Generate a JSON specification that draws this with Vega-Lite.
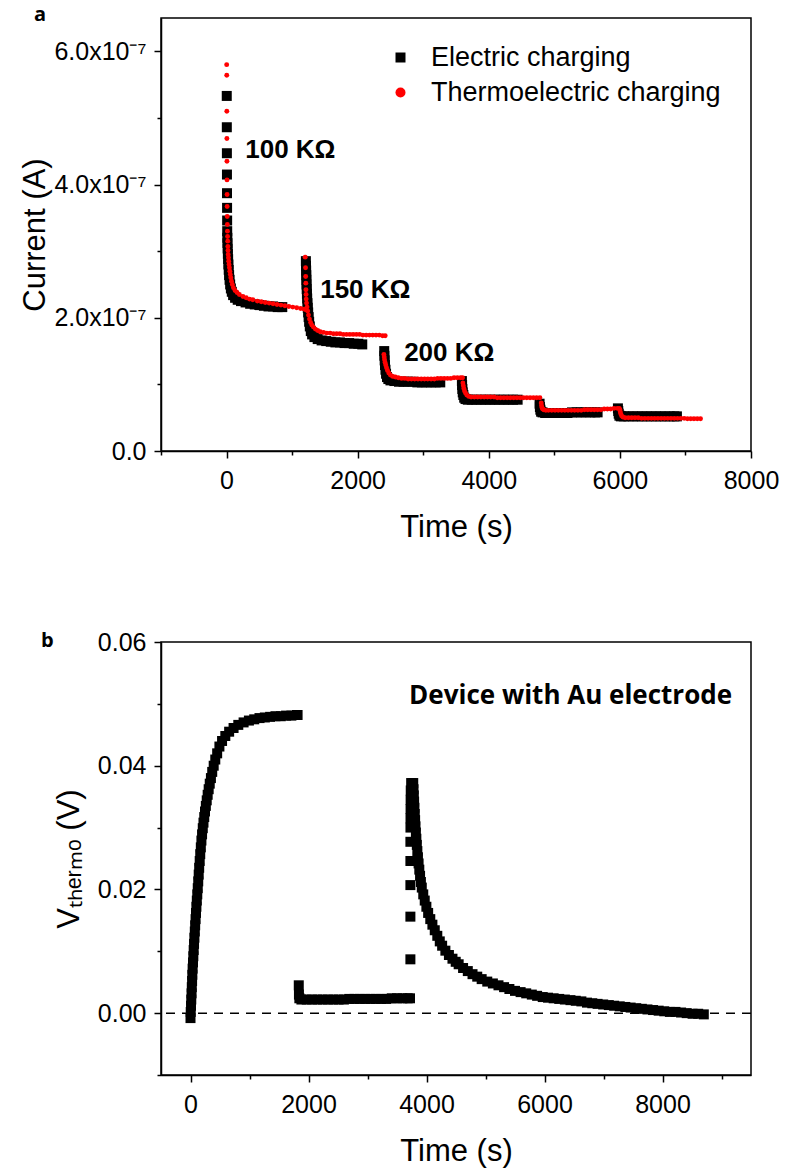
{
  "$schema": "https://vega.github.io/schema/vega-lite/v6.json",
  "padding": {"left": 19, "top": 3, "right": 5, "bottom": 5},
  "autosize": {"type": "pad"},
  "background": "white",
  "config": {
    "font": "Liberation Sans",
    "view": {"stroke": "black", "strokeWidth": 1.5},
    "axis": {"domainColor": "black", "domainWidth": 1.5, "tickColor": "black", "tickWidth": 1.5, "labelColor": "black", "titleColor": "black", "labelFont": "Liberation Sans", "titleFont": "Liberation Sans", "labelFontSize": 25, "titleFontSize": 31, "titleFontWeight": "normal", "grid": false, "labelOverlap": false, "labelFlush": false}
  },
  "datasets": {
    "electric": [
      {"t":3,"current":5.33e-7},{"t":4,"current":4.86e-7},{"t":5,"current":4.47e-7},{"t":6,"current":4.15e-7},{"t":7,"current":3.87e-7},{"t":8,"current":3.65e-7},{"t":9,"current":3.46e-7},{"t":10,"current":3.30e-7},{"t":12,"current":3.20e-7},{"t":14,"current":3.12e-7},{"t":17,"current":3.04e-7},{"t":20,"current":2.96e-7},{"t":24,"current":2.88e-7},{"t":28,"current":2.80e-7},{"t":33,"current":2.72e-7},{"t":39,"current":2.64e-7},{"t":46,"current":2.57e-7},{"t":55,"current":2.50e-7},{"t":66,"current":2.44e-7},{"t":80,"current":2.39e-7},{"t":100,"current":2.34e-7},{"t":130,"current":2.30e-7},{"t":170,"current":2.27e-7},{"t":220,"current":2.25e-7},{"t":290,"current":2.23e-7},{"t":360,"current":2.21e-7},{"t":430,"current":2.20e-7},{"t":500,"current":2.19e-7},{"t":570,"current":2.18e-7},{"t":640,"current":2.17e-7},{"t":710,"current":2.17e-7},{"t":780,"current":2.16e-7},{"t":850,"current":2.16e-7},
      {"t":1210,"current":2.85e-7},{"t":1212,"current":2.78e-7},{"t":1214,"current":2.71e-7},{"t":1216,"current":2.64e-7},{"t":1218,"current":2.57e-7},{"t":1220,"current":2.50e-7},{"t":1223,"current":2.43e-7},{"t":1226,"current":2.36e-7},{"t":1230,"current":2.29e-7},{"t":1234,"current":2.22e-7},{"t":1239,"current":2.15e-7},{"t":1245,"current":2.08e-7},{"t":1252,"current":2.01e-7},{"t":1260,"current":1.94e-7},{"t":1270,"current":1.87e-7},{"t":1285,"current":1.80e-7},{"t":1305,"current":1.75e-7},{"t":1340,"current":1.71e-7},{"t":1390,"current":1.68e-7},{"t":1450,"current":1.66e-7},{"t":1520,"current":1.65e-7},{"t":1590,"current":1.64e-7},{"t":1660,"current":1.63e-7},{"t":1730,"current":1.63e-7},{"t":1800,"current":1.62e-7},{"t":1870,"current":1.62e-7},{"t":1940,"current":1.61e-7},{"t":2010,"current":1.61e-7},{"t":2070,"current":1.60e-7},
      {"t":2405,"current":1.50e-7},{"t":2408,"current":1.43e-7},{"t":2412,"current":1.36e-7},{"t":2417,"current":1.29e-7},{"t":2424,"current":1.22e-7},{"t":2433,"current":1.16e-7},{"t":2447,"current":1.11e-7},{"t":2468,"current":1.08e-7},{"t":2500,"current":1.06e-7},{"t":2560,"current":1.05e-7},{"t":2630,"current":1.04e-7},{"t":2700,"current":1.04e-7},{"t":2770,"current":1.04e-7},{"t":2840,"current":1.04e-7},{"t":2910,"current":1.03e-7},{"t":2980,"current":1.03e-7},{"t":3050,"current":1.03e-7},{"t":3120,"current":1.03e-7},{"t":3190,"current":1.03e-7},{"t":3260,"current":1.03e-7},
      {"t":3590,"current":1.05e-7},{"t":3593,"current":0.99e-7},{"t":3597,"current":0.93e-7},{"t":3603,"current":0.88e-7},{"t":3612,"current":0.84e-7},{"t":3625,"current":0.80e-7},{"t":3645,"current":0.78e-7},{"t":3680,"current":0.77e-7},{"t":3740,"current":0.77e-7},{"t":3810,"current":0.77e-7},{"t":3880,"current":0.77e-7},{"t":3950,"current":0.77e-7},{"t":4020,"current":0.77e-7},{"t":4090,"current":0.77e-7},{"t":4160,"current":0.77e-7},{"t":4230,"current":0.77e-7},{"t":4300,"current":0.77e-7},{"t":4370,"current":0.77e-7},{"t":4440,"current":0.77e-7},
      {"t":4775,"current":0.71e-7},{"t":4780,"current":0.66e-7},{"t":4787,"current":0.62e-7},{"t":4798,"current":0.59e-7},{"t":4820,"current":0.58e-7},{"t":4860,"current":0.57e-7},{"t":4920,"current":0.57e-7},{"t":4990,"current":0.57e-7},{"t":5060,"current":0.57e-7},{"t":5130,"current":0.57e-7},{"t":5200,"current":0.57e-7},{"t":5270,"current":0.58e-7},{"t":5340,"current":0.58e-7},{"t":5410,"current":0.58e-7},{"t":5480,"current":0.58e-7},{"t":5550,"current":0.58e-7},{"t":5620,"current":0.58e-7},{"t":5660,"current":0.58e-7},
      {"t":5970,"current":0.64e-7},{"t":5975,"current":0.60e-7},{"t":5982,"current":0.56e-7},{"t":5993,"current":0.53e-7},{"t":6015,"current":0.52e-7},{"t":6060,"current":0.52e-7},{"t":6130,"current":0.52e-7},{"t":6200,"current":0.52e-7},{"t":6270,"current":0.52e-7},{"t":6340,"current":0.52e-7},{"t":6410,"current":0.52e-7},{"t":6480,"current":0.52e-7},{"t":6550,"current":0.52e-7},{"t":6620,"current":0.52e-7},{"t":6690,"current":0.52e-7},{"t":6760,"current":0.52e-7},{"t":6830,"current":0.52e-7},{"t":6870,"current":0.52e-7}
    ],
    "thermo": [
      {"t":2,"current":5.80e-7},{"t":3,"current":5.64e-7},{"t":4,"current":5.10e-7},{"t":5,"current":4.69e-7},{"t":6,"current":4.35e-7},{"t":7,"current":4.07e-7},{"t":8,"current":3.85e-7},{"t":9,"current":3.67e-7},{"t":10,"current":3.52e-7},{"t":12,"current":3.40e-7},{"t":14,"current":3.30e-7},{"t":16,"current":3.22e-7},{"t":18,"current":3.15e-7},{"t":20,"current":3.07e-7},{"t":22,"current":3.01e-7},{"t":25,"current":2.95e-7},{"t":29,"current":2.90e-7},{"t":33,"current":2.85e-7},{"t":38,"current":2.80e-7},{"t":44,"current":2.75e-7},{"t":50,"current":2.70e-7},{"t":57,"current":2.65e-7},{"t":65,"current":2.60e-7},{"t":75,"current":2.55e-7},{"t":88,"current":2.50e-7},{"t":105,"current":2.45e-7},{"t":130,"current":2.41e-7},{"t":160,"current":2.38e-7},{"t":195,"current":2.35e-7},{"t":250,"current":2.32e-7},{"t":300,"current":2.30e-7},{"t":350,"current":2.28e-7},{"t":400,"current":2.27e-7},{"t":470,"current":2.25e-7},{"t":530,"current":2.24e-7},{"t":590,"current":2.23e-7},{"t":650,"current":2.22e-7},{"t":710,"current":2.21e-7},{"t":770,"current":2.20e-7},{"t":830,"current":2.19e-7},{"t":890,"current":2.18e-7},{"t":950,"current":2.17e-7},{"t":1010,"current":2.16e-7},{"t":1070,"current":2.15e-7},{"t":1130,"current":2.14e-7},{"t":1180,"current":2.13e-7},{"t":1210,"current":2.12e-7},
      {"t":1200,"current":2.91e-7},{"t":1205,"current":2.75e-7},{"t":1207,"current":2.62e-7},{"t":1209,"current":2.52e-7},{"t":1211,"current":2.42e-7},{"t":1213,"current":2.35e-7},{"t":1215,"current":2.28e-7},{"t":1220,"current":2.22e-7},{"t":1228,"current":2.16e-7},{"t":1238,"current":2.10e-7},{"t":1250,"current":2.04e-7},{"t":1265,"current":1.98e-7},{"t":1282,"current":1.93e-7},{"t":1300,"current":1.89e-7},{"t":1325,"current":1.86e-7},{"t":1355,"current":1.83e-7},{"t":1390,"current":1.81e-7},{"t":1430,"current":1.79e-7},{"t":1480,"current":1.78e-7},{"t":1530,"current":1.77e-7},{"t":1580,"current":1.77e-7},{"t":1630,"current":1.76e-7},{"t":1680,"current":1.76e-7},{"t":1730,"current":1.76e-7},{"t":1780,"current":1.75e-7},{"t":1830,"current":1.75e-7},{"t":1880,"current":1.75e-7},{"t":1930,"current":1.75e-7},{"t":1980,"current":1.75e-7},{"t":2030,"current":1.75e-7},{"t":2080,"current":1.74e-7},{"t":2130,"current":1.74e-7},{"t":2180,"current":1.74e-7},{"t":2230,"current":1.74e-7},{"t":2280,"current":1.74e-7},{"t":2330,"current":1.74e-7},{"t":2380,"current":1.73e-7},{"t":2420,"current":1.73e-7},
      {"t":2400,"current":1.45e-7},{"t":2405,"current":1.41e-7},{"t":2410,"current":1.37e-7},{"t":2418,"current":1.33e-7},{"t":2428,"current":1.29e-7},{"t":2440,"current":1.25e-7},{"t":2455,"current":1.21e-7},{"t":2475,"current":1.17e-7},{"t":2500,"current":1.14e-7},{"t":2535,"current":1.12e-7},{"t":2575,"current":1.11e-7},{"t":2620,"current":1.10e-7},{"t":2670,"current":1.09e-7},{"t":2720,"current":1.09e-7},{"t":2770,"current":1.08e-7},{"t":2820,"current":1.08e-7},{"t":2870,"current":1.08e-7},{"t":2920,"current":1.08e-7},{"t":2970,"current":1.08e-7},{"t":3020,"current":1.08e-7},{"t":3070,"current":1.08e-7},{"t":3120,"current":1.08e-7},{"t":3170,"current":1.08e-7},{"t":3220,"current":1.09e-7},{"t":3270,"current":1.09e-7},{"t":3320,"current":1.09e-7},{"t":3370,"current":1.09e-7},{"t":3420,"current":1.09e-7},{"t":3470,"current":1.10e-7},{"t":3520,"current":1.10e-7},{"t":3570,"current":1.10e-7},{"t":3600,"current":1.10e-7},
      {"t":3605,"current":1.02e-7},{"t":3612,"current":0.98e-7},{"t":3620,"current":0.94e-7},{"t":3630,"current":0.90e-7},{"t":3645,"current":0.87e-7},{"t":3665,"current":0.84e-7},{"t":3695,"current":0.82e-7},{"t":3730,"current":0.81e-7},{"t":3780,"current":0.81e-7},{"t":3830,"current":0.81e-7},{"t":3880,"current":0.81e-7},{"t":3930,"current":0.81e-7},{"t":3980,"current":0.81e-7},{"t":4030,"current":0.81e-7},{"t":4080,"current":0.81e-7},{"t":4130,"current":0.80e-7},{"t":4180,"current":0.80e-7},{"t":4230,"current":0.80e-7},{"t":4280,"current":0.80e-7},{"t":4330,"current":0.80e-7},{"t":4380,"current":0.80e-7},{"t":4430,"current":0.80e-7},{"t":4480,"current":0.80e-7},{"t":4530,"current":0.80e-7},{"t":4580,"current":0.80e-7},{"t":4630,"current":0.80e-7},{"t":4680,"current":0.80e-7},{"t":4730,"current":0.80e-7},{"t":4780,"current":0.80e-7},
      {"t":4800,"current":0.72e-7},{"t":4805,"current":0.68e-7},{"t":4812,"current":0.65e-7},{"t":4822,"current":0.63e-7},{"t":4840,"current":0.62e-7},{"t":4870,"current":0.61e-7},{"t":4910,"current":0.61e-7},{"t":4960,"current":0.61e-7},{"t":5010,"current":0.61e-7},{"t":5060,"current":0.61e-7},{"t":5110,"current":0.61e-7},{"t":5160,"current":0.61e-7},{"t":5210,"current":0.61e-7},{"t":5260,"current":0.61e-7},{"t":5310,"current":0.61e-7},{"t":5360,"current":0.61e-7},{"t":5410,"current":0.61e-7},{"t":5460,"current":0.62e-7},{"t":5510,"current":0.62e-7},{"t":5560,"current":0.62e-7},{"t":5610,"current":0.62e-7},{"t":5660,"current":0.62e-7},{"t":5710,"current":0.62e-7},{"t":5760,"current":0.63e-7},{"t":5810,"current":0.63e-7},{"t":5860,"current":0.63e-7},{"t":5910,"current":0.64e-7},{"t":5960,"current":0.64e-7},{"t":5990,"current":0.64e-7},
      {"t":6000,"current":0.62e-7},{"t":6005,"current":0.59e-7},{"t":6012,"current":0.56e-7},{"t":6025,"current":0.53e-7},{"t":6045,"current":0.51e-7},{"t":6080,"current":0.50e-7},{"t":6130,"current":0.50e-7},{"t":6180,"current":0.50e-7},{"t":6230,"current":0.50e-7},{"t":6280,"current":0.50e-7},{"t":6330,"current":0.49e-7},{"t":6380,"current":0.49e-7},{"t":6430,"current":0.49e-7},{"t":6480,"current":0.49e-7},{"t":6530,"current":0.49e-7},{"t":6580,"current":0.49e-7},{"t":6630,"current":0.49e-7},{"t":6680,"current":0.49e-7},{"t":6730,"current":0.49e-7},{"t":6780,"current":0.49e-7},{"t":6830,"current":0.49e-7},{"t":6880,"current":0.49e-7},{"t":6930,"current":0.49e-7},{"t":6980,"current":0.49e-7},{"t":7030,"current":0.485e-7},{"t":7080,"current":0.485e-7},{"t":7130,"current":0.485e-7},{"t":7180,"current":0.485e-7},{"t":7230,"current":0.485e-7}
    ],
    "resistors": [
      {"t":285,"current":4.52e-7,"label":"100 KΩ"},
      {"t":1428,"current":2.42e-7,"label":"150 KΩ"},
      {"t":2709,"current":1.47e-7,"label":"200 KΩ"}
    ],
    "vthermo": [
      {"t":0,"v":-0.0008},{"t":4,"v":0.0002},{"t":9,"v":0.0012},{"t":13,"v":0.0022},{"t":18,"v":0.0032},{"t":22,"v":0.0042},{"t":27,"v":0.0052},{"t":31,"v":0.0062},{"t":36,"v":0.0072},{"t":42,"v":0.0082},{"t":48,"v":0.0092},{"t":54,"v":0.0102},{"t":60,"v":0.0112},{"t":66,"v":0.0122},{"t":73,"v":0.0132},{"t":79,"v":0.0142},{"t":86,"v":0.0152},{"t":93,"v":0.0162},{"t":100,"v":0.0172},{"t":107,"v":0.0182},{"t":115,"v":0.0192},{"t":123,"v":0.0202},{"t":131,"v":0.0213},{"t":139,"v":0.0224},{"t":147,"v":0.0235},{"t":156,"v":0.0246},{"t":165,"v":0.0257},{"t":175,"v":0.0268},{"t":185,"v":0.0279},{"t":196,"v":0.0289},{"t":208,"v":0.0299},{"t":220,"v":0.0308},{"t":233,"v":0.0317},{"t":246,"v":0.0326},{"t":260,"v":0.0335},{"t":275,"v":0.0344},{"t":291,"v":0.0353},{"t":308,"v":0.0362},{"t":326,"v":0.0371},{"t":346,"v":0.0380},{"t":368,"v":0.0390},{"t":393,"v":0.0400},{"t":420,"v":0.0410},{"t":452,"v":0.0420},{"t":490,"v":0.0431},{"t":535,"v":0.0440},{"t":590,"v":0.0448},{"t":655,"v":0.0455},{"t":730,"v":0.0461},{"t":810,"v":0.0466},{"t":900,"v":0.0470},{"t":990,"v":0.0473},{"t":1080,"v":0.0475},{"t":1170,"v":0.0477},{"t":1260,"v":0.0478},{"t":1350,"v":0.0479},{"t":1440,"v":0.0480},{"t":1530,"v":0.0480},{"t":1620,"v":0.0481},{"t":1710,"v":0.0481},{"t":1800,"v":0.0482},{"t":1815,"v":0.0482},
      {"t":1835,"v":0.0045},{"t":1838,"v":0.0030},{"t":1845,"v":0.0024},{"t":1880,"v":0.0022},{"t":1970,"v":0.0022},{"t":2060,"v":0.0022},{"t":2150,"v":0.0022},{"t":2240,"v":0.0022},{"t":2330,"v":0.0022},{"t":2420,"v":0.0022},{"t":2510,"v":0.0022},{"t":2600,"v":0.0022},{"t":2690,"v":0.0023},{"t":2780,"v":0.0023},{"t":2870,"v":0.0023},{"t":2960,"v":0.0023},{"t":3050,"v":0.0023},{"t":3140,"v":0.0023},{"t":3230,"v":0.0023},{"t":3320,"v":0.0023},{"t":3410,"v":0.0024},{"t":3500,"v":0.0024},{"t":3590,"v":0.0024},{"t":3680,"v":0.0024},{"t":3720,"v":0.0024},
      {"t":3727,"v":0.0087},{"t":3727,"v":0.0156},{"t":3727,"v":0.0207},{"t":3727,"v":0.0246},{"t":3727,"v":0.0277},{"t":3728,"v":0.0300},{"t":3729,"v":0.0315},{"t":3730,"v":0.0330},{"t":3731,"v":0.0345},{"t":3733,"v":0.0360},{"t":3740,"v":0.0372},
      {"t":3775,"v":0.0372},{"t":3780,"v":0.0362},{"t":3785,"v":0.0352},{"t":3790,"v":0.0342},{"t":3795,"v":0.0332},{"t":3801,"v":0.0322},{"t":3807,"v":0.0312},{"t":3813,"v":0.0302},{"t":3820,"v":0.0292},{"t":3828,"v":0.0282},{"t":3836,"v":0.0272},{"t":3845,"v":0.0262},{"t":3855,"v":0.0252},{"t":3866,"v":0.0242},{"t":3878,"v":0.0232},{"t":3891,"v":0.0222},{"t":3905,"v":0.0212},{"t":3920,"v":0.0203},{"t":3945,"v":0.0192},{"t":3970,"v":0.0182},{"t":3998,"v":0.0172},{"t":4028,"v":0.0162},{"t":4064,"v":0.0152},{"t":4100,"v":0.0143},{"t":4140,"v":0.0134},{"t":4183,"v":0.0125},{"t":4225,"v":0.0116},{"t":4265,"v":0.0109},{"t":4320,"v":0.0101},{"t":4380,"v":0.0094},{"t":4440,"v":0.0088},{"t":4495,"v":0.0083},{"t":4545,"v":0.0079},{"t":4620,"v":0.0073},{"t":4700,"v":0.0068},{"t":4780,"v":0.0063},{"t":4860,"v":0.0059},{"t":4935,"v":0.0055},{"t":5030,"v":0.0051},{"t":5125,"v":0.0048},{"t":5220,"v":0.0045},{"t":5315,"v":0.0042},{"t":5405,"v":0.0039},{"t":5500,"v":0.0036},{"t":5595,"v":0.0034},{"t":5690,"v":0.0032},{"t":5785,"v":0.0030},{"t":5875,"v":0.0028},{"t":5970,"v":0.0026},{"t":6060,"v":0.0025},{"t":6155,"v":0.0024},{"t":6250,"v":0.0023},{"t":6345,"v":0.0022},{"t":6440,"v":0.0021},{"t":6530,"v":0.0020},{"t":6625,"v":0.0019},{"t":6720,"v":0.0017},{"t":6810,"v":0.0016},{"t":6900,"v":0.0015},{"t":6995,"v":0.0014},{"t":7090,"v":0.0013},{"t":7180,"v":0.0012},{"t":7275,"v":0.0011},{"t":7370,"v":0.0010},{"t":7460,"v":0.0009},{"t":7555,"v":0.0008},{"t":7650,"v":0.0007},{"t":7745,"v":0.0006},{"t":7840,"v":0.0005},{"t":7935,"v":0.0004},{"t":8030,"v":0.0003},{"t":8125,"v":0.0002},{"t":8220,"v":0.0002},{"t":8315,"v":0.0001},{"t":8410,"v":0.0000},{"t":8510,"v":-0.0001},{"t":8605,"v":-0.0001},{"t":8700,"v":-0.0002}
    ],
    "baseline": [
      {"v": 0}
    ],
    "device": [
      {"t":9179,"v":0.0513,"label":"Device with Au electrode"}
    ]
  },
  "spacing": 86,
  "vconcat": [
    {
      "width": 590,
      "height": 433,
      "title": {"text": "a", "anchor": "start", "frame": "group", "dx": -127, "offset": -6.5, "font": "Open Sans", "fontSize": 20, "fontWeight": "bold", "color": "black"},
      "layer": [
        {
          "data": {"name": "electric"},
          "mark": {"type": "point", "filled": true, "opacity": 1, "strokeWidth": 0, "size": 100},
          "encoding": {
            "x": {"field": "t", "type": "quantitative", "title": "Time (s)",
              "scale": {"domain": [-1000, 8000], "nice": false, "zero": false},
              "axis": {"values": [-1000, 0, 1000, 2000, 3000, 4000, 5000, 6000, 7000, 8000], "labelExpr": "datum.value % 2000 === 0 ? format(datum.value, 'd') : ''", "tickSize": {"condition": {"test": "datum.value % 2000 === 0", "value": 7}, "value": 4}, "labelPadding": 10, "titlePadding": 19}},
            "y": {"field": "current", "type": "quantitative", "title": "Current (A)",
              "scale": {"domain": [0, 6.5e-7], "nice": false, "zero": false},
              "axis": {"values": [0, 1e-7, 2e-7, 3e-7, 4e-7, 5e-7, 6e-7], "labelExpr": "round(datum.value * 1e7) % 2 === 0 ? (round(datum.value * 1e7) === 0 ? '0.0' : format(datum.value * 1e7, '.1f') + 'x10⁻⁷') : ''", "tickSize": {"condition": {"test": "round(datum.value * 1e7) % 2 === 0", "value": 7}, "value": 4}, "labelPadding": 8, "titlePadding": 2}},
            "color": {"datum": "Electric charging", "type": "nominal",
              "scale": {"domain": ["Electric charging", "Thermoelectric charging"], "range": ["black", "red"]},
              "legend": {"orient": "none", "legendX": 226, "legendY": 26, "title": null, "labelFontSize": 27, "labelFont": "Liberation Sans", "labelColor": "black", "labelOffset": 17, "labelLimit": 0, "rowPadding": 7, "padding": 0, "symbolSize": 100, "symbolStrokeWidth": 0,
                "encode": {"symbols": {"update": {"size": {"signal": "datum.value === 'Electric charging' ? 100 : 12"}}}}}},
            "shape": {"datum": "Electric charging", "type": "nominal",
              "scale": {"domain": ["Electric charging", "Thermoelectric charging"], "range": ["square", "circle"]}}
          }
        },
        {
          "data": {"name": "thermo"},
          "mark": {"type": "point", "filled": true, "opacity": 1, "strokeWidth": 0, "size": 24},
          "encoding": {
            "x": {"field": "t", "type": "quantitative"},
            "y": {"field": "current", "type": "quantitative"},
            "color": {"datum": "Thermoelectric charging", "type": "nominal"},
            "shape": {"datum": "Thermoelectric charging", "type": "nominal"}
          }
        },
        {
          "data": {"name": "resistors"},
          "mark": {"type": "text", "align": "left", "baseline": "middle", "font": "Liberation Sans", "fontWeight": "bold", "fontSize": 26, "color": "black"},
          "encoding": {
            "x": {"field": "t", "type": "quantitative"},
            "y": {"field": "current", "type": "quantitative"},
            "text": {"field": "label"}
          }
        }
      ]
    },
    {
      "width": 590,
      "height": 433,
      "title": {"text": "b", "anchor": "start", "frame": "group", "dx": -120, "offset": -21, "font": "Open Sans", "fontSize": 20, "fontWeight": "bold", "color": "black"},
      "layer": [
        {
          "data": {"name": "vthermo"},
          "mark": {"type": "point", "shape": "square", "filled": true, "opacity": 1, "strokeWidth": 0, "size": 100, "color": "black"},
          "encoding": {
            "x": {"field": "t", "type": "quantitative", "title": "Time (s)",
              "scale": {"domain": [-500, 9500], "nice": false, "zero": false},
              "axis": {"values": [0, 1000, 2000, 3000, 4000, 5000, 6000, 7000, 8000, 9000], "labelExpr": "datum.value % 2000 === 0 ? format(datum.value, 'd') : ''", "tickSize": {"condition": {"test": "datum.value % 2000 === 0", "value": 7}, "value": 4}, "labelPadding": 10, "titlePadding": 19}},
            "y": {"field": "v", "type": "quantitative", "title": "Vₜₕₑᵣₘₒ (V)",
              "scale": {"domain": [-0.01, 0.06], "nice": false, "zero": false},
              "axis": {"values": [-0.01, 0, 0.01, 0.02, 0.03, 0.04, 0.05, 0.06], "labelExpr": "round(datum.value * 100) % 2 === 0 ? format(datum.value, '.2f') : ''", "tickSize": {"condition": {"test": "round(datum.value * 100) % 2 === 0", "value": 7}, "value": 4}, "labelPadding": 8, "titlePadding": 12}}
          }
        },
        {
          "data": {"name": "baseline"},
          "mark": {"type": "rule", "strokeDash": [9, 7], "strokeWidth": 1.5, "color": "black"},
          "encoding": {"y": {"field": "v", "type": "quantitative"}}
        },
        {
          "data": {"name": "device"},
          "mark": {"type": "text", "align": "right", "baseline": "middle", "font": "Open Sans", "fontWeight": "bold", "fontSize": 26, "color": "black"},
          "encoding": {
            "x": {"field": "t", "type": "quantitative"},
            "y": {"field": "v", "type": "quantitative"},
            "text": {"field": "label"}
          }
        }
      ]
    }
  ]
}
